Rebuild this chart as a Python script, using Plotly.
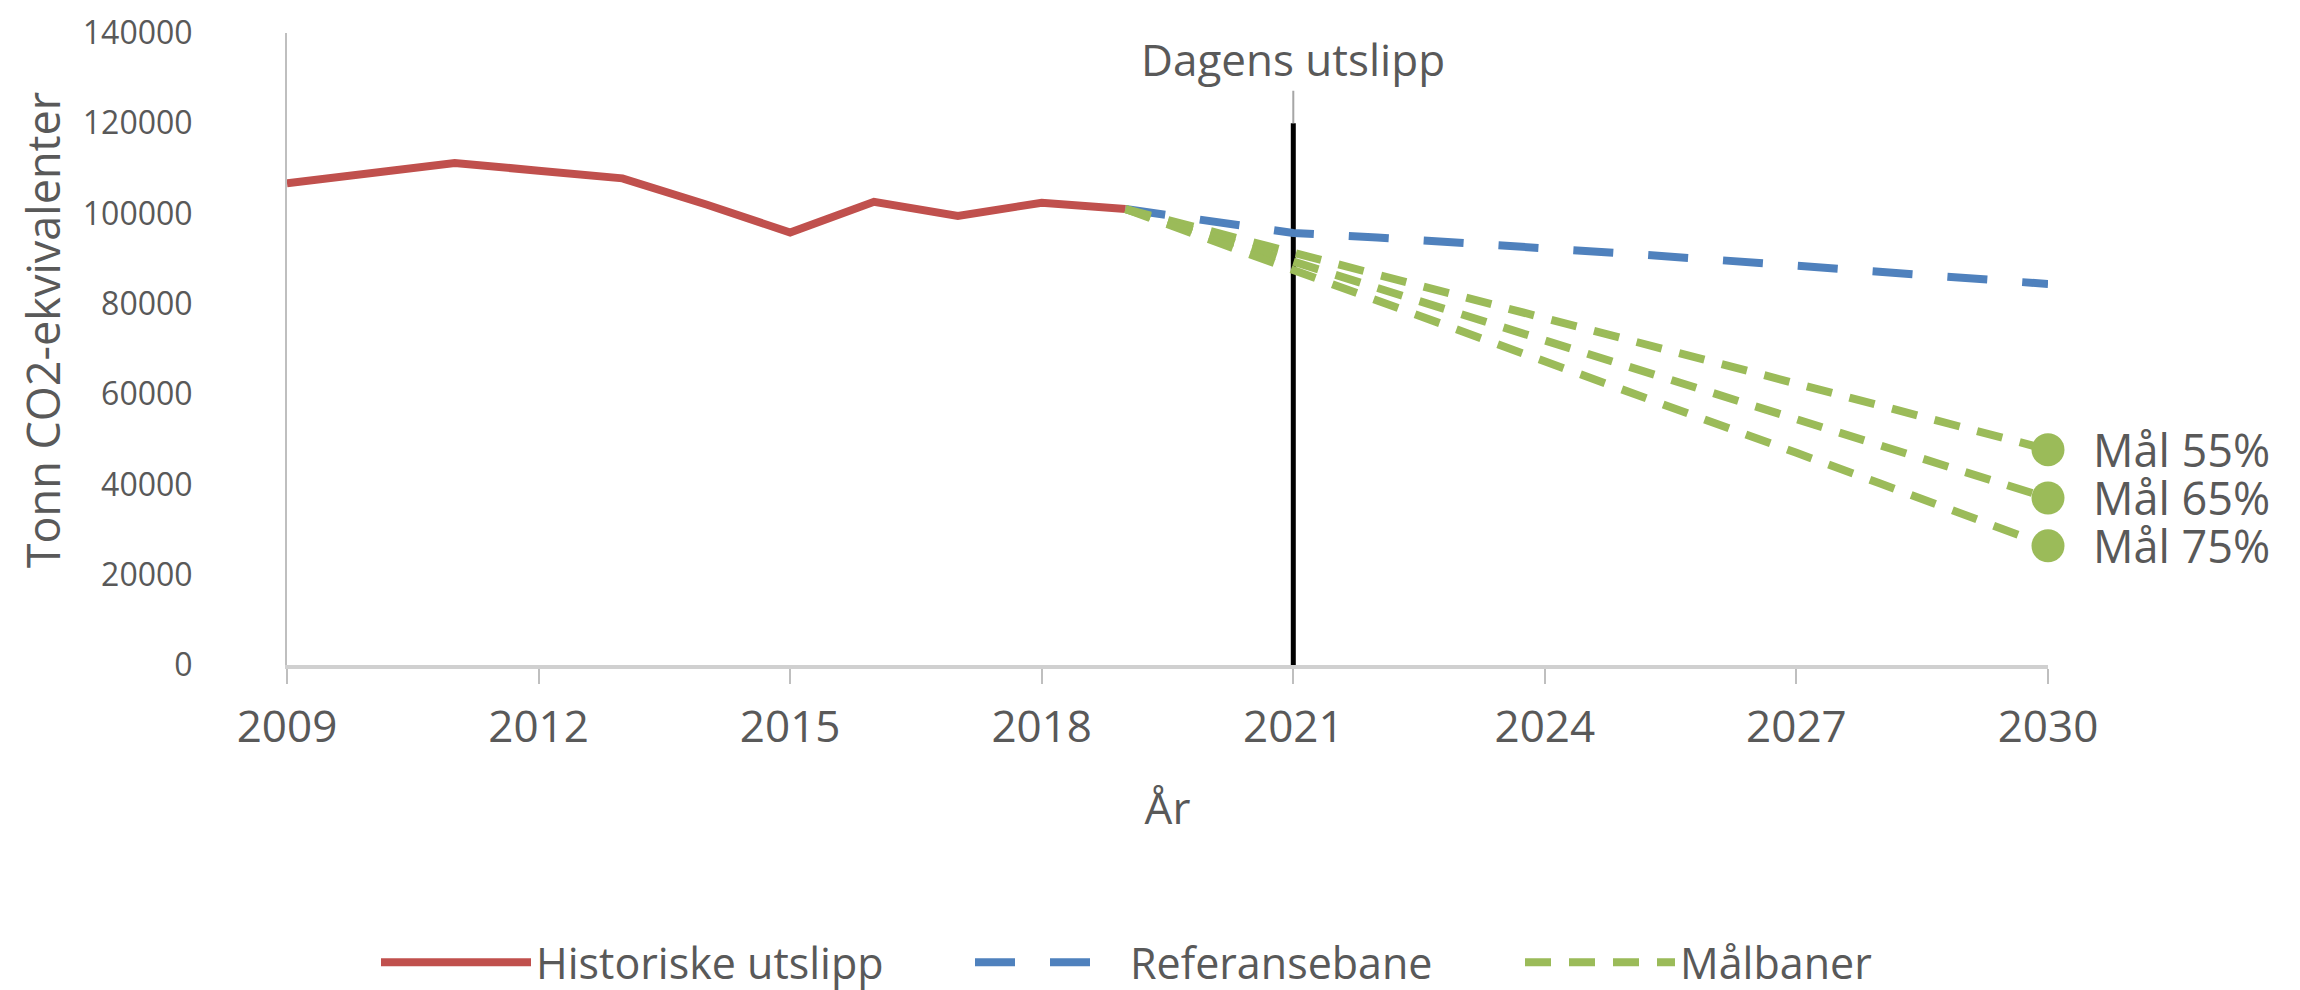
import plotly.graph_objects as go

# ---- data ----
hist_years = [2009, 2010, 2011, 2012, 2013, 2014, 2015, 2016, 2017, 2018, 2019]
hist_values = [106700, 109000, 111200, 109500, 107800, 102000, 95800, 102600, 99500, 102400, 101000]

proj_years = [2019, 2020, 2021, 2022, 2023, 2024, 2025, 2026, 2027, 2028, 2029, 2030]
ref_values = [101000, 98200, 95700, 94700, 93600, 92400, 91100, 89800, 88500, 87200, 85800, 84400]

goal_55 = [101000, 96100, 91300, 86500, 81700, 76900, 72000, 67200, 62400, 57500, 52600, 47700]
goal_65 = [101000, 95200, 89400, 83600, 77800, 72000, 66200, 60400, 54600, 48800, 42900, 37000]
goal_75 = [101000, 94300, 87500, 80800, 74000, 67200, 60500, 53800, 47000, 40200, 33300, 26400]
goal_series = [goal_55, goal_65, goal_75]
goal_labels = ["Mål 55%", "Mål 65%", "Mål 75%"]

dagens_year = 2021
dagens_top = 120000
dagens_label = "Dagens utslipp"

series_names = ["Historiske utslipp", "Referansebane", "Målbaner"]
x_title = "År"
y_title = "Tonn CO2-ekvivalenter"
y_ticks = [0, 20000, 40000, 60000, 80000, 100000, 120000, 140000]
x_ticks = [2009, 2012, 2015, 2018, 2021, 2024, 2027, 2030]

# ---- style ----
RED = "#C0504D"
BLUE = "#4F81BD"
GREEN = "#9BBB59"
TXT = "#595959"
FONT = "Open Sans"

fig = go.Figure()

# vertical "today" line
fig.add_trace(go.Scatter(
    x=[dagens_year, dagens_year], y=[0, dagens_top], mode="lines",
    line=dict(color="black", width=5), showlegend=False, hoverinfo="skip"))

fig.add_trace(go.Scatter(
    x=hist_years, y=hist_values, mode="lines", name=series_names[0],
    line=dict(color=RED, width=8), legendwidth=429))

fig.add_trace(go.Scatter(
    x=proj_years, y=ref_values, mode="lines", name=series_names[1],
    line=dict(color=BLUE, width=8, dash="40px,35px"), legendwidth=385))

for i, vals in enumerate(goal_series):
    fig.add_trace(go.Scatter(
        x=proj_years, y=vals, mode="lines", name=series_names[2],
        legendgroup="goal", showlegend=(i == 0),
        line=dict(color=GREEN, width=8, dash="26px,18px"),
        cliponaxis=False))
    fig.add_trace(go.Scatter(
        x=[proj_years[-1]], y=[vals[-1]], mode="markers",
        marker=dict(color=GREEN, size=33),
        legendgroup="goal", showlegend=False, cliponaxis=False))

for vals, lab in zip(goal_series, goal_labels):
    fig.add_annotation(
        x=proj_years[-1], y=vals[-1], xref="x", yref="y",
        text=lab, showarrow=False, xanchor="left", yanchor="middle",
        xshift=43, font=dict(family=FONT, size=45, color=TXT))

fig.add_annotation(
    x=dagens_year, y=dagens_top, xref="x", yref="y",
    text=dagens_label, showarrow=True, arrowhead=0, arrowwidth=2,
    arrowcolor="#A6A6A6", ax=0, ay=-64,
    font=dict(family=FONT, size=44, color=TXT))

# y-axis title as annotation (placed slightly above the plot centre, as in source)
fig.add_annotation(
    x=-0.139, y=0.53, xref="paper", yref="paper",
    text=y_title, textangle=-90, showarrow=False,
    xanchor="center", yanchor="middle",
    font=dict(family=FONT, size=45, color=TXT))

fig.update_layout(
    width=2300, height=990,
    margin=dict(l=279, r=260, t=25, b=333, autoexpand=False),
    plot_bgcolor="white", paper_bgcolor="white",
    font=dict(family=FONT, color=TXT),
    showlegend=True,
    legend=dict(
        orientation="h", xref="container", yref="container",
        x=0.16, xanchor="left", y=0.036, yanchor="middle",
        font=dict(family=FONT, size=43, color=TXT),
        itemwidth=150, traceorder="normal"),
    xaxis=dict(
        range=[2009, 2030], tickmode="array", tickvals=x_ticks,
        ticktext=[str(t) for t in x_ticks], automargin=False,
        showgrid=False, zeroline=False,
        showline=True, linecolor="#D0D0D0", linewidth=4,
        ticks="outside", ticklen=15, tickcolor="#BFBFBF", tickwidth=2,
        ticklabelstandoff=5,
        tickfont=dict(family=FONT, size=44, color=TXT),
        title=dict(text=x_title, font=dict(family=FONT, size=44, color=TXT), standoff=40)),
    yaxis=dict(
        range=[0, 140000], tickmode="array", tickvals=y_ticks,
        ticktext=[str(t) for t in y_ticks], automargin=False,
        showgrid=False, zeroline=False,
        showline=True, linecolor="#BFBFBF", linewidth=2,
        ticks="", ticklabelstandoff=86, ticklabeloverflow="allow",
        tickfont=dict(family=FONT, size=32, color=TXT)),
)

fig.write_html("out.html")
